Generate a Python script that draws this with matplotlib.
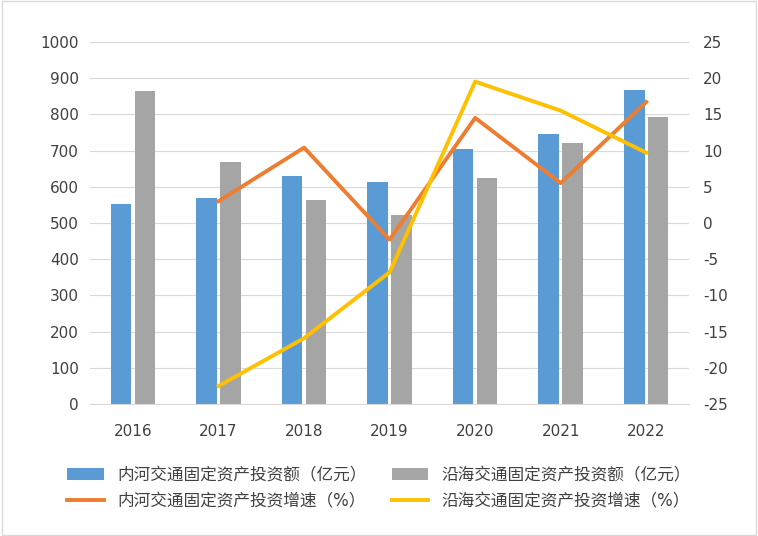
import matplotlib.pyplot as plt
import numpy as np

plt.rcParams["font.family"] = ["DejaVu Sans", "Noto Sans CJK SC"]
plt.rcParams["axes.unicode_minus"] = False

years = ["2016", "2017", "2018", "2019", "2020", "2021", "2022"]
inland_inv = [552, 569, 630, 613, 704, 746, 867]
coastal_inv = [865, 668, 564, 522, 624, 721, 793]
inland_growth = [None, 3.0, 10.4, -2.3, 14.5, 5.5, 16.7]
coastal_growth = [None, -22.5, -15.9, -6.8, 19.5, 15.5, 9.7]

x = np.arange(len(years))
fig = plt.figure(figsize=(7.58, 5.36), dpi=100)
ax = fig.add_axes([0.119, 0.246, 0.79, 0.676])
w = 0.24
ax.bar(x - w / 2 - 0.02, inland_inv, w, color="#5b9bd5", label="内河交通固定资产投资额（亿元）", zorder=2)
ax.bar(x + w / 2 + 0.02, coastal_inv, w, color="#a5a5a5", label="沿海交通固定资产投资额（亿元）", zorder=2)
ax.set_ylim(0, 1000)
ax.set_yticks(range(0, 1001, 100))
ax.set_xlim(-0.5, len(years) - 0.5)
ax.set_xticks(x, years)
ax.grid(axis="y", color="#d9d9d9", lw=0.8, zorder=0)
ax.tick_params(length=0, labelsize=11, colors="#404040")
ax.tick_params(axis="x", pad=14)
ax.tick_params(axis="y", pad=8)
for s in ["top", "left", "right"]:
    ax.spines[s].set_visible(False)
ax.spines["bottom"].set_color("#d9d9d9")

ax2 = ax.twinx()
ax2.plot(x[1:], inland_growth[1:], color="#ed7d31", lw=2.8, label="内河交通固定资产投资增速（%）")
ax2.plot(x[1:], coastal_growth[1:], color="#ffc000", lw=2.8, label="沿海交通固定资产投资增速（%）")
ax2.set_ylim(-25, 25)
ax2.set_yticks(range(-25, 26, 5))
ax2.tick_params(length=0, labelsize=11, colors="#404040", pad=10)
for s in ax2.spines.values():
    s.set_visible(False)

h1, l1 = ax.get_legend_handles_labels()
h2, l2 = ax2.get_legend_handles_labels()
handles = [h1[0], h2[0], h1[1], h2[1]]
labels = [l1[0], l2[0], l1[1], l2[1]]
fig.legend(handles, labels, ncol=2, loc="lower center", bbox_to_anchor=(0.5, 0.02),
           frameon=False, fontsize=12, labelcolor="#404040", columnspacing=1.5,
           handlelength=2.2)

fig.patches.append(plt.Rectangle((0.002, 0.002), 0.996, 0.996, transform=fig.transFigure,
                                 fill=False, edgecolor="#d9d9d9", lw=1))
fig.savefig("out.png", dpi=100)
